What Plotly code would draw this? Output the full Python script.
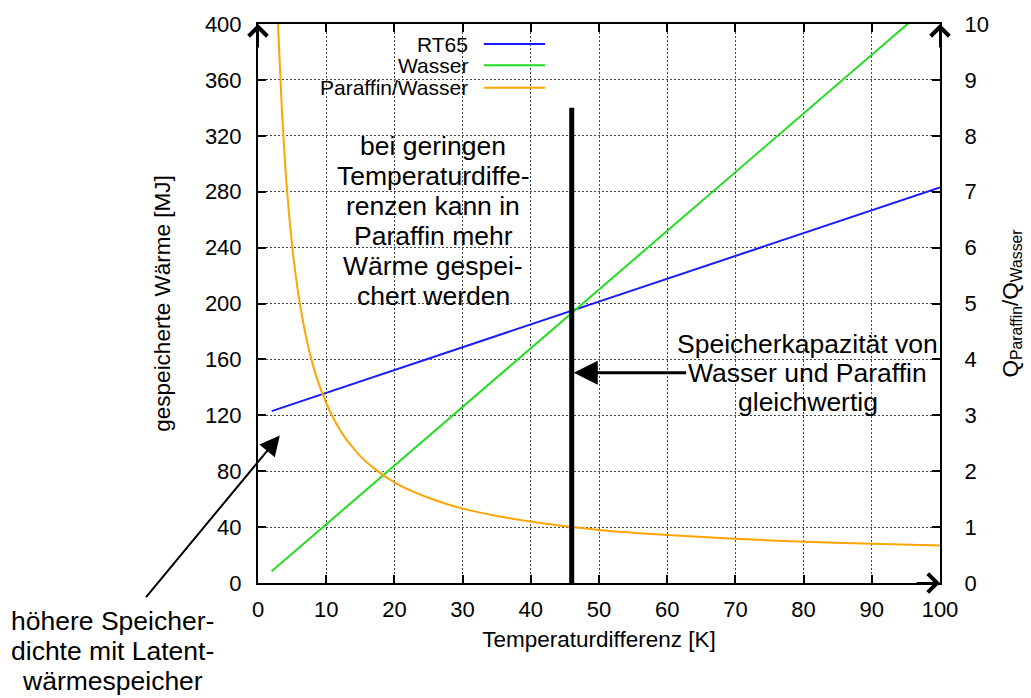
import plotly.graph_objects as go

# ---- data ----
rt65_x = [2, 100]
rt65_y = [123, 283]

wasser_x = [2, 100]
wasser_y = [8.4, 420]

ratio_x = [2.5, 3, 3.5, 4, 4.5, 5, 5.5, 6, 7, 8, 9, 10, 11, 12, 13, 14, 15, 17, 20, 23, 26, 30,
           35, 40, 46, 50, 55, 60, 70, 80, 90, 100]
ratio_y = [11.7, 9.81, 8.46, 7.45, 6.67, 6.04, 5.53, 5.10, 4.43, 3.92, 3.53, 3.22, 2.96, 2.74,
           2.56, 2.41, 2.27, 2.05, 1.80, 1.62, 1.48, 1.33, 1.20, 1.10, 1.0, 0.95, 0.90, 0.86,
           0.79, 0.74, 0.70, 0.67]

x_ticks = list(range(0, 101, 10))
y_ticks = list(range(0, 401, 40))
y2_ticks = list(range(0, 11, 1))

marker_x = 46
marker_top = 340

series_names = ["RT65", "Wasser", "Paraffin/Wasser"]
series_colors = ["#1a1aff", "#22dd22", "#ffa500"]

text_main = ["bei geringen", "Temperaturdiffe-", "renzen kann in",
             "Paraffin mehr", "Wärme gespei-", "chert werden"]
text_right = ["Speicherkapazität von", "Wasser und Paraffin", "gleichwertig"]
text_left = ["höhere Speicher-", "dichte mit Latent-", "wärmespeicher"]

FONT = "Liberation Sans, Arial, sans-serif"

fig = go.Figure()
fig.add_trace(go.Scatter(x=rt65_x, y=rt65_y, mode="lines", name=series_names[0],
                         line=dict(color=series_colors[0], width=2), yaxis="y"))
fig.add_trace(go.Scatter(x=wasser_x, y=wasser_y, mode="lines", name=series_names[1],
                         line=dict(color=series_colors[1], width=2), yaxis="y"))
fig.add_trace(go.Scatter(x=ratio_x, y=ratio_y, mode="lines", name=series_names[2],
                         line=dict(color=series_colors[2], width=2, shape="spline", smoothing=1.0),
                         yaxis="y2"))

shapes = []
annotations = []

# thick vertical marker
shapes.append(dict(type="line", xref="x", yref="y", x0=marker_x, x1=marker_x, y0=0, y1=marker_top,
                   line=dict(color="black", width=5)))

# manual gnuplot-style legend (label right, line sample to the right)
leg_y = [0.964, 0.926, 0.886]
for name, col, ly in zip(series_names, series_colors, leg_y):
    annotations.append(dict(xref="paper", yref="paper", x=0.311, y=ly, text=name, showarrow=False,
                            xanchor="right", yanchor="middle", font=dict(size=21, family=FONT, color="black")))
    shapes.append(dict(type="line", xref="paper", yref="paper", x0=0.331, x1=0.421, y0=ly, y1=ly,
                       line=dict(color=col, width=2)))


def add_block(lines, x, y, xref, yref, spacing, size):
    n = len(lines)
    for i, t in enumerate(lines):
        annotations.append(dict(xref=xref, yref=yref, x=x, y=y, text=t, showarrow=False,
                                xanchor="center", yanchor="middle",
                                yshift=-(i - (n - 1) / 2) * spacing,
                                font=dict(size=size, family=FONT, color="black")))


add_block(text_main, 25.7, 258.8, "x", "y", 30, 26.5)
add_block(text_right, 80.6, 150.4, "x", "y", 29, 26.5)
add_block(text_left, -0.214, -0.122, "paper", "paper", 30, 26.5)

# arrows
annotations.append(dict(xref="x", yref="y", x=marker_x + 0.3, y=150.5, ax=63, ay=150.5,
                        axref="x", ayref="y", showarrow=True, text="",
                        arrowhead=2, arrowwidth=3, arrowsize=1.6, arrowcolor="black"))
annotations.append(dict(xref="x", yref="y", x=3.2, y=105.5, ax=-135, ay=163,
                        showarrow=True, text="", arrowhead=2, arrowwidth=2, arrowsize=2.0,
                        arrowcolor="black"))
# axis arrowheads
annotations.append(dict(xref="paper", yref="paper", x=0, y=1, ax=0, ay=25, showarrow=True, text="",
                        arrowhead=4, arrowwidth=2, arrowsize=1.8, arrowcolor="black"))
annotations.append(dict(xref="paper", yref="paper", x=1, y=1, ax=0, ay=25, showarrow=True, text="",
                        arrowhead=4, arrowwidth=2, arrowsize=1.8, arrowcolor="black"))
annotations.append(dict(xref="paper", yref="paper", x=1, y=0, ax=-25, ay=0, showarrow=True, text="",
                        arrowhead=4, arrowwidth=2, arrowsize=1.8, arrowcolor="black"))

tickfont = dict(size=22, family=FONT, color="black")
titlefont = dict(size=22.5, family=FONT, color="black")
grid = dict(showgrid=True, gridcolor="#444444", gridwidth=1, griddash="2px,2px")

fig.update_layout(
    width=1031, height=698,
    margin=dict(l=258, r=91, t=22, b=115),
    paper_bgcolor="white", plot_bgcolor="white",
    showlegend=False,
    font=dict(family=FONT, color="black"),
    xaxis=dict(range=[0, 100], tickvals=x_ticks, ticks="inside", ticklen=8, tickwidth=1.5,
               tickcolor="black", showline=True, linecolor="black", linewidth=2, mirror="ticks",
               zeroline=False, tickfont=tickfont, ticklabelstandoff=6,
               title=dict(text="Temperaturdifferenz [K]", font=titlefont, standoff=10),
               **grid),
    yaxis=dict(range=[0, 400], tickvals=y_ticks, ticks="inside", ticklen=8, tickwidth=1.5,
               tickcolor="black", showline=True, linecolor="black", linewidth=2,
               zeroline=False, tickfont=tickfont, ticklabelstandoff=10,
               title=dict(text="gespeicherte Wärme [MJ]", font=titlefont, standoff=28),
               **grid),
    yaxis2=dict(range=[0, 10], tickvals=y2_ticks, overlaying="y", side="right", ticks="inside",
                ticklen=8, tickwidth=1.5, tickcolor="black", showline=True, linecolor="black",
                linewidth=2, showgrid=False, zeroline=False, tickfont=tickfont, ticklabelstandoff=18,
                title=dict(text="Q<sub>Paraffin</sub>/Q<sub>Wasser</sub>",
                           font=titlefont, standoff=14)),
    shapes=shapes,
    annotations=annotations,
)

fig.write_html("out.html")
